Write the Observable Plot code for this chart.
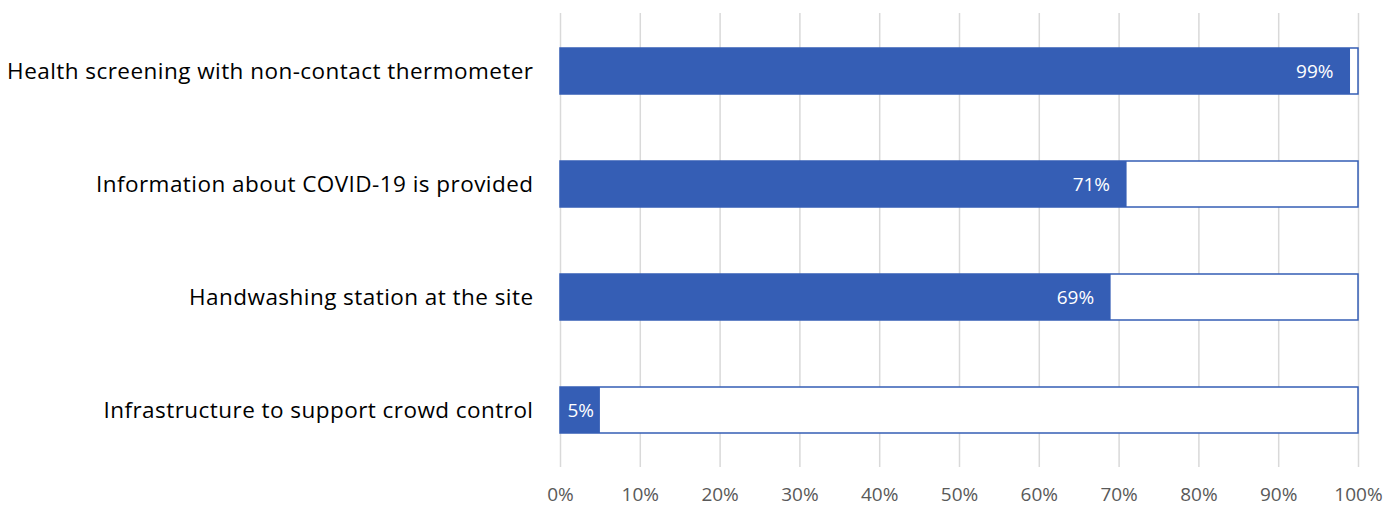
<!DOCTYPE html>
<html><head><meta charset="utf-8">
<script src="https://cdn.jsdelivr.net/npm/d3@7"></script>
<script src="https://cdn.jsdelivr.net/npm/@observablehq/plot@0.6"></script>
<style>
body{margin:0;background:#fff;}
g[aria-label="y-axis tick label"] text{letter-spacing:0.45px;}
</style></head>
<body><div id="chart"></div>
<script>
const categories = [
  "Health screening with non-contact thermometer",
  "Information about COVID-19 is provided",
  "Handwashing station at the site",
  "Infrastructure to support crowd control"
];
const values = [0.99, 0.71, 0.69, 0.05];
const tickValues = [0,0.1,0.2,0.3,0.4,0.5,0.6,0.7,0.8,0.9,1];

const data = categories.map((c,i)=>({cat:c, v:values[i]}));
const blue = "#355EB5";
const font = "'Open Sans', sans-serif";

const chart = Plot.plot({
  width: 1399, height: 507,
  marginLeft: 560, marginRight: 41, marginTop: 13, marginBottom: 40,
  style: {fontFamily: font, background: "#fff", overflow: "visible"},
  x: {domain:[0,1], ticks: tickValues, tickFormat: d3.format(".0%"), label: null},
  y: {domain: categories, paddingInner: 0.595, paddingOuter: 0.2975, label: null},
  marks: [
    Plot.gridX(tickValues, {stroke:"#d9d9d9", strokeOpacity:1, strokeWidth:1.5}),
    Plot.axisX({ticks: tickValues, tickFormat: d3.format(".0%"), tickSize:0, tickPadding:20, fontSize:19, fill:"#595959", label:null}),
    Plot.axisY({tickSize:0, tickPadding:27, fontSize:22.5, fill:"#000", label:null}),
    Plot.barX(data, {y:"cat", x1:0, x2:1, fill:"#fff", stroke:blue, strokeWidth:1.5}),
    Plot.barX(data, {y:"cat", x1:0, x2:"v", fill:blue}),
    Plot.text(data.filter(d=>d.v>=0.1), {y:"cat", x:"v", text:d=>d3.format(".0%")(d.v), textAnchor:"end", dx:-17, fill:"#fff", fontSize:19}),
    Plot.text(data.filter(d=>d.v<0.1), {y:"cat", x:0, text:d=>d3.format(".0%")(d.v), textAnchor:"start", dx:7, fill:"#fff", fontSize:19})
  ]
});
document.getElementById("chart").appendChild(chart);
</script>
</body></html>
